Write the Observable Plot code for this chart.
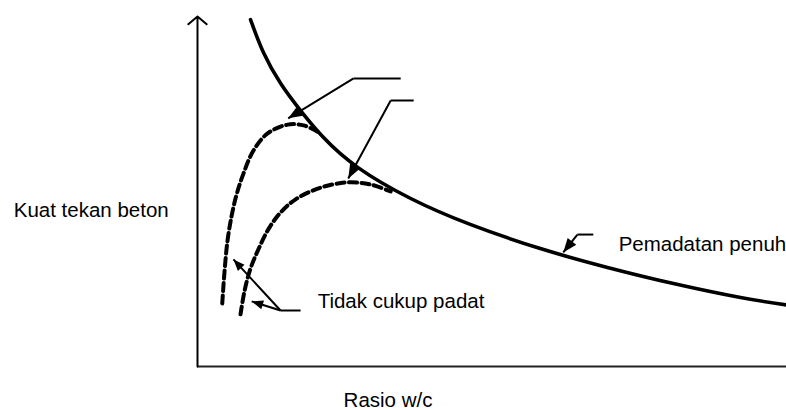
<!DOCTYPE html>
<html>
<head>
<meta charset="utf-8">
<script src="https://cdn.jsdelivr.net/npm/d3@7"></script>
<script src="https://cdn.jsdelivr.net/npm/@observablehq/plot@0.6"></script>
<style>
  html, body { margin: 0; padding: 0; background: #fff; }
</style>
</head>
<body>
<div id="chart"></div>
<script>
// Schematic data (abstract units: x = w/c ratio, y = compressive strength, both 0–100)
const fullCompaction = [
  [9.0, 99.1], [11.2, 89.7], [14.1, 80.9], [17.5, 73.1], [21.4, 65.4],
  [27.2, 56.9], [36.2, 48.0], [46.3, 40.6], [58.2, 33.7], [69.6, 28.3],
  [80.8, 23.7], [92.2, 19.7], [100, 17.6]
];
const underCompactedA = [
  [4.2, 18.0], [4.6, 27.4], [5.1, 36.0], [5.8, 43.1], [6.6, 48.9],
  [7.8, 55.1], [9.5, 61.7], [11.9, 66.6], [15.3, 69.1], [18.0, 68.9], [20.4, 67.1]
];
const underCompactedB = [
  [7.3, 14.9], [8.0, 21.7], [9.0, 28.0], [10.4, 33.7], [12.1, 39.4],
  [14.1, 44.0], [16.6, 47.7], [20.9, 51.1], [25.5, 52.6], [29.4, 52.0], [32.8, 50.0]
];
// Annotation leaders: elbow point, end of horizontal tail, arrow tips
const leaderElbows = [[26.5, 82.3], [32.8, 76.0], [64.5, 37.7], [14.1, 16.0]];
const leaderTails  = [[34.5, 82.3], [36.7, 76.0], [67.2, 37.7], [17.5, 16.0]];
const leaderTips   = [
  [[15.4, 70.9]],
  [[25.6, 53.7]],
  [[62.1, 32.6]],
  [[6.1, 30.6], [9.2, 18.6]]
];
// Labels
const labelTexts = ["Kuat tekan beton", "Rasio w/c", "Tidak cukup padat", "Pemadatan penuh"];
const labelX = [-31.2, 24.8, 20.4, 71.5];
const labelY = [42.6, -11.7, 16.6, 33.1];

// Layout
const W = 786, H = 410, mL = 197, mR = 0, mT = 16, mB = 44;
const kx = (W - mL - mR) / 100, ky = (H - mT - mB) / 100;

// Filled triangles with their tip at the origin, pointing up
const makeHead = (L, w) => ({
  draw(context) {
    context.moveTo(0, 0);
    context.lineTo(-w, L);
    context.lineTo(w, L);
    context.closePath();
  }
});
const bigHead = makeHead(14, 5.5);
const smallHead = makeHead(11.5, 4.5);

// Build leader segments and arrowheads from the arrays above
const segments = [];
const heads = [];
leaderElbows.forEach((e, i) => {
  segments.push({x1: e[0], y1: e[1], x2: leaderTails[i][0], y2: leaderTails[i][1]});
  leaderTips[i].forEach(t => {
    segments.push({x1: e[0], y1: e[1], x2: t[0], y2: t[1]});
    const dx = (t[0] - e[0]) * kx, dy = -(t[1] - e[1]) * ky;
    heads.push({x: t[0], y: t[1], angle: Math.atan2(dx, -dy) * 180 / Math.PI, small: i === 3});
  });
});

const labels = labelTexts.map((t, i) => ({text: t, x: labelX[i], y: labelY[i]}));

const chart = Plot.plot({
  width: W, height: H,
  marginLeft: mL, marginRight: mR, marginTop: mT, marginBottom: mB,
  x: {domain: [0, 100], axis: null},
  y: {domain: [0, 100], axis: null},
  style: {fontFamily: "'Liberation Sans', Arial, sans-serif", fontSize: "20.5px", background: "#fff"},
  marks: [
    // axes
    Plot.ruleY([0], {x1: 0, x2: 100, stroke: "#222", strokeWidth: 2.2}),
    Plot.arrow([{x1: 0, y1: 0, x2: 0, y2: 100}], {
      x1: "x1", y1: "y1", x2: "x2", y2: "y2",
      stroke: "#000", strokeWidth: 2, headLength: 9, headAngle: 100
    }),
    // curves
    Plot.line(underCompactedA, {curve: "catmull-rom", stroke: "#000", strokeWidth: 4, strokeDasharray: "8,4.5"}),
    Plot.line(underCompactedB, {curve: "catmull-rom", stroke: "#000", strokeWidth: 4, strokeDasharray: "8,4.5"}),
    Plot.line(fullCompaction, {curve: "natural", stroke: "#000", strokeWidth: 3.6}),
    // leaders
    Plot.link(segments, {x1: "x1", y1: "y1", x2: "x2", y2: "y2", stroke: "#000", strokeWidth: 2}),
    Plot.dot(heads.filter(d => !d.small), {
      x: "x", y: "y", rotate: "angle", symbol: bigHead, r: 5, fill: "#000", stroke: "none"
    }),
    Plot.dot(heads.filter(d => d.small), {
      x: "x", y: "y", rotate: "angle", symbol: smallHead, r: 5, fill: "#000", stroke: "none"
    }),
    // labels
    Plot.text(labels, {x: "x", y: "y", text: "text", textAnchor: "start", lineAnchor: "bottom", fill: "#000"})
  ]
});
document.getElementById("chart").appendChild(chart);
</script>
</body>
</html>
